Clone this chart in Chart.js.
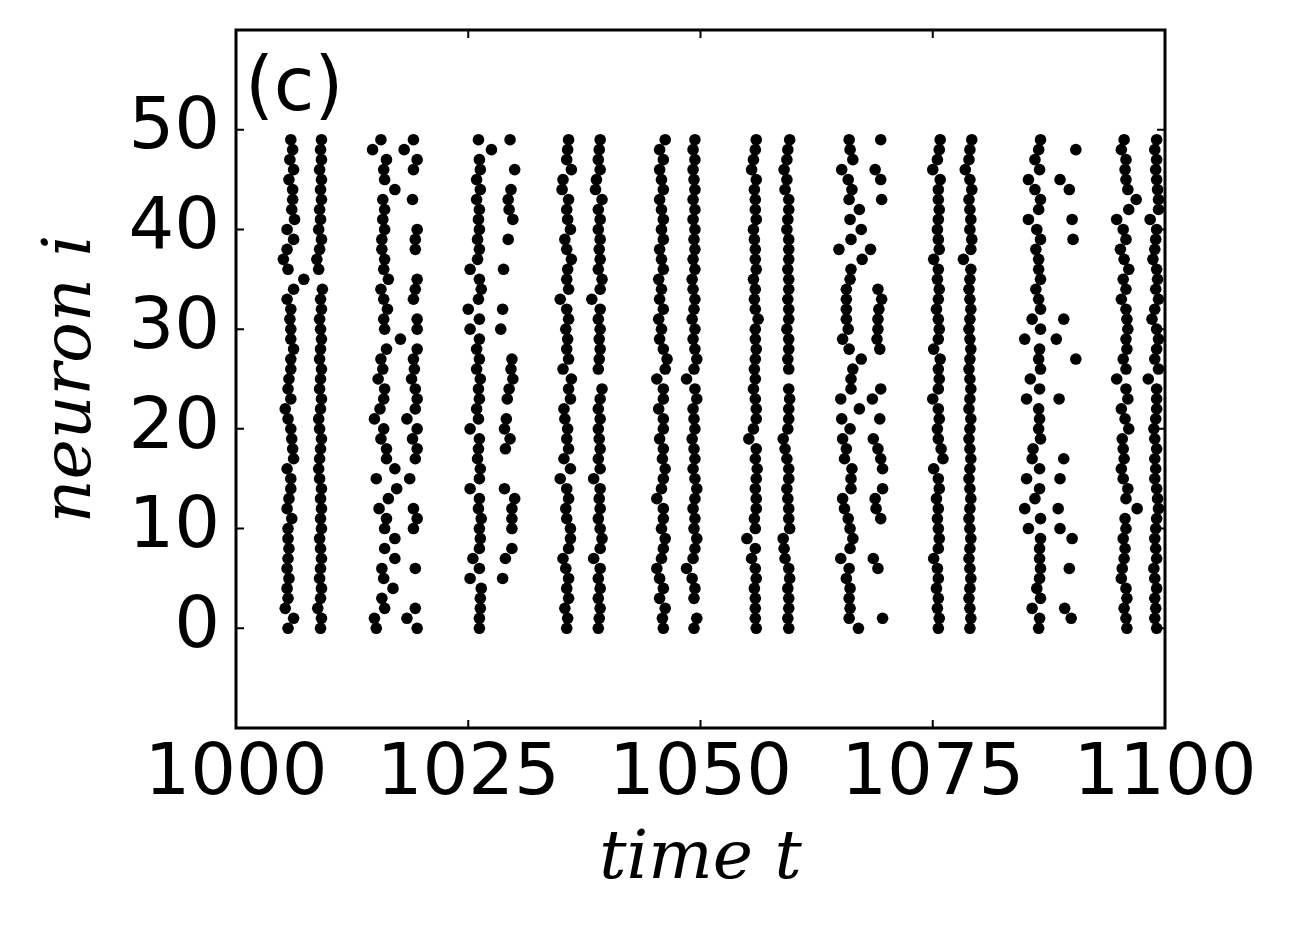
<!DOCTYPE html>
<html>
<head>
<meta charset="utf-8">
<title>Raster plot (c)</title>
<script src="https://cdn.jsdelivr.net/npm/chart.js@4.4.1/dist/chart.umd.min.js"></script>
<style>
  html, body { margin: 0; padding: 0; background: #fff; }
  canvas { display: block; }
</style>
</head>
<body>
<canvas id="raster" width="1291" height="941"></canvas>
<script>
// ── Data ───────────────────────────────────────────────────
// Spike times, one array per spike column,
// indexed by neuron 0..49 (null = no spike in that column).

const neurons = Array.from({ length: 50 }, (_, i) => i);
const xTicks = [1000, 1025, 1050, 1075, 1100];
const yTicks = [0, 10, 20, 30, 40, 50];

const col1a = [1005.6,1006.2,1005.3,1005.6,1005.5,1005.7,1005.5,1005.6,1005.7,1005.6,
  1005.6,1006.0,1005.5,1005.7,1005.9,1005.9,1005.5,1006.2,1006.1,1006.0,
  1005.9,1005.6,1005.3,1005.9,1005.6,1005.7,1005.9,1005.9,1006.2,1005.9,
  1005.9,1005.8,1005.9,1005.5,1006.2,1007.3,1005.6,1005.1,1005.5,1006.2,
  1005.5,1006.3,1006.0,1006.1,1006.1,1005.7,1006.2,1005.8,1006.1,1005.9];
const col1b = [1009.1,1009.2,1008.8,1009.1,1009.2,1009.0,1009.1,1009.2,1009.1,1009.0,
  1009.2,1009.1,1009.2,1009.1,1009.2,1009.0,1008.9,1009.0,1009.1,1009.2,
  1009.0,1008.9,1009.1,1009.2,1009.0,1009.1,1009.2,1009.0,1009.1,1009.2,
  1009.1,1009.0,1009.2,1009.1,1009.3,null,1008.9,1008.7,1009.0,1009.2,
  1008.9,1009.1,1009.0,1009.2,1009.1,1009.2,1009.0,1009.2,1009.1,1009.2];

const col2a = [1015.1,1014.9,1016.0,1015.7,1016.9,1015.9,1015.7,1017.1,1016.0,1017.1,
  1016.0,1016.2,1015.4,1016.4,1017.3,1015.1,1017.1,1016.2,1016.2,1015.6,
  1015.9,1014.9,1015.5,1015.9,1016.0,1015.3,1015.8,1015.6,1016.2,1017.7,
  1016.0,1015.9,1016.3,1015.9,1015.6,1016.4,1015.9,1016.0,1015.7,1015.7,
  1016.0,1015.8,1016.0,1015.8,1017.1,1016.0,1015.9,1016.2,1014.7,1015.6];
const col2b = [1019.5,1018.4,1019.3,null,null,null,1019.3,null,null,null,
  1019.1,1019.5,1019.1,null,null,1018.7,null,1019.3,1019.5,1019.0,
  1019.5,1018.4,1019.3,1019.5,1019.3,1018.9,1019.2,1019.1,1019.5,null,
  1019.5,1019.5,null,1019.1,1019.3,1019.5,null,null,1019.3,1019.3,
  1019.5,null,null,1019.0,null,null,1019.1,1019.5,1018.1,1019.1];

const col3a = [1026.2,1026.2,1026.3,1026.3,1026.4,1025.2,1026.2,1025.5,1026.2,1026.3,
  1026.2,1026.4,1026.1,1026.2,1025.2,1026.2,1026.3,1026.0,1026.1,1026.2,
  1025.2,1026.1,1025.9,1026.2,1026.1,1026.3,1025.9,1026.2,1025.9,1026.2,
  1025.2,1026.2,1025.0,1026.1,1026.4,1026.2,1025.2,1026.0,1026.2,1026.0,
  1026.2,1026.1,1026.2,1025.9,1026.3,1025.9,1026.3,1026.2,1027.5,1026.1];
const col3b = [null,null,null,null,null,1028.7,null,1029.0,1029.7,null,
  1029.7,1029.7,1029.7,1030.0,1028.9,null,null,null,1029.0,1029.5,
  1028.9,1029.1,null,1029.2,1029.4,1029.8,1029.6,1029.7,null,null,
  1028.5,null,1028.7,null,null,null,1028.8,null,null,1029.3,
  null,1029.8,1029.4,1029.3,1029.6,null,1030.0,null,null,1029.5];

const col4a = [1035.6,1035.7,1035.4,1035.8,1035.6,1035.8,1035.5,1035.2,1035.8,1036.0,
  1036.0,1035.6,1035.5,1035.8,1035.6,1034.9,1036.0,1035.3,1035.8,1035.6,
  1035.7,1035.4,1035.3,1036.0,1035.8,1036.1,1035.2,1035.8,1035.6,1035.7,
  1035.5,1035.8,1035.6,1034.9,1035.8,1035.6,1035.7,1036.1,1035.6,1035.4,
  1036.0,1035.7,1035.6,1035.8,1035.1,1035.2,1036.1,1035.6,1035.7,1035.8];
const col4b = [1039.0,1039.1,1039.2,1039.0,1039.2,1039.0,1039.2,1038.5,1039.2,1039.4,
  1039.2,1039.0,1039.2,1039.1,1039.2,1038.5,1039.2,1039.0,1039.2,1039.1,
  1039.0,1039.2,1039.0,1039.2,1039.4,null,1039.0,1039.1,1039.2,1039.1,
  1039.2,1039.0,1039.2,1038.3,1039.2,1039.4,1039.0,1039.2,1039.1,1039.2,
  1039.0,1039.2,1039.0,1039.4,1038.7,1038.8,1039.2,1039.0,1039.1,1039.2];

const col5a = [1046.0,1045.9,1046.2,1045.6,1046.0,1045.6,1045.3,1045.8,1046.0,1046.2,
  1045.8,1046.0,1046.0,1045.3,1045.8,1046.0,1046.2,1045.9,1046.0,1045.6,
  1046.0,1046.0,1045.5,1046.0,1046.0,1045.3,1046.2,1046.4,1046.0,1045.6,
  1045.8,1045.5,1046.0,1045.6,1045.8,1045.5,1046.0,1045.8,1045.6,1046.0,
  1045.8,1046.0,1045.8,1045.6,1046.0,1045.8,1045.6,1046.0,1045.6,1046.2];
const col5b = [1049.3,1049.6,null,1049.3,1049.4,1049.1,1048.5,1049.2,1049.4,1049.6,
  1049.3,1049.4,1049.2,1049.4,1049.6,1049.4,1049.2,1049.4,1049.3,1049.1,
  1049.4,1049.3,1049.2,1049.6,1049.4,1048.5,1049.3,1049.6,1049.4,1049.2,
  1049.4,1049.1,1049.3,1049.4,1049.2,1049.1,1049.4,1049.2,1049.4,1049.3,
  1049.4,1049.2,1049.4,1049.2,1049.4,1049.3,1049.2,1049.4,1049.2,1049.4];

const col6a = [1056.0,1055.9,1055.9,1055.9,1055.8,1056.0,1055.9,1055.5,1055.9,1055.0,
  1055.9,1055.8,1056.0,1056.0,1055.9,1056.0,1056.1,1055.9,1056.0,1055.2,
  1055.7,1056.0,1056.0,1055.9,1055.7,1055.9,1055.8,1055.9,1056.0,1055.9,
  1055.9,1056.2,1055.9,1055.8,1055.9,1055.7,1056.0,1055.9,1055.9,1055.8,
  1055.7,1056.0,1055.9,1055.9,1055.8,1056.0,1055.5,1055.7,1055.9,1056.0];
const col6b = [1059.5,1059.4,1059.5,1059.5,1059.4,1059.6,1059.5,1059.1,1059.0,1058.9,
  1059.6,1059.5,1059.5,1059.4,1059.3,1059.5,1059.5,1059.3,1059.1,1058.9,
  1059.4,1059.5,1059.5,1059.6,1059.5,null,1059.5,1059.4,1059.5,1059.5,
  1059.3,1059.5,1059.5,1059.4,1059.5,1059.5,1059.4,1059.5,1059.5,1059.5,
  1059.3,1059.4,1059.5,1059.5,1059.1,1059.3,1059.0,1059.3,1059.4,1059.6];

const col7a = [1067.0,1066.0,1066.1,1066.0,1066.1,1065.7,1066.0,1065.1,1066.1,1066.4,
  1066.1,1065.9,1065.5,1065.3,1066.2,1066.2,1066.3,1065.5,1065.7,1065.3,
  1066.1,1065.2,1067.1,1065.1,1066.2,1066.2,1066.4,1067.3,1066.0,1065.3,
  1065.9,1065.7,1065.7,1065.7,1065.7,1066.1,1066.2,1067.4,1064.9,1066.2,
  1067.3,1066.1,1067.1,1066.0,1066.3,1065.9,1065.2,1066.4,1066.1,1066.0];
const col7b = [null,1069.6,null,null,null,null,1069.1,1068.6,null,null,
  null,1069.4,1068.9,1068.8,1069.6,null,1069.6,1069.4,1069.1,1068.6,
  null,1069.3,null,1068.5,1069.4,null,null,null,1069.3,1069.0,
  1069.1,1069.1,1069.2,1069.5,1069.1,null,null,null,1068.3,null,
  null,null,null,1069.5,null,1069.4,1068.8,null,null,1069.4];

const col8a = [1075.6,1075.7,1075.5,1075.6,1075.4,1075.6,1075.5,1075.1,1075.6,1075.7,
  1075.6,1075.5,1075.6,1075.4,1075.7,1075.6,1075.1,1076.1,1075.9,1075.6,
  1075.5,1075.7,1075.6,1075.0,1075.6,1075.7,1075.6,1075.8,1075.1,1075.6,
  1075.7,1075.6,1075.4,1075.6,1075.7,1075.5,1075.6,1075.1,1075.7,1075.6,
  1075.5,1075.6,1075.7,1075.6,1075.6,1075.8,1075.0,1075.5,1075.7,1075.8];
const col8b = [1079.0,1079.1,1079.0,1078.9,1079.0,1079.1,1079.0,1078.9,1079.0,1079.1,
  1079.0,1078.9,1079.0,1079.1,1079.0,1078.9,1079.0,1079.1,1079.0,1078.9,
  1079.0,1079.1,1078.9,1079.0,1079.1,1079.0,1078.9,1079.0,1079.1,1079.0,
  1078.9,1079.0,1079.1,1079.0,1078.9,1079.0,1079.1,1078.3,1079.1,1079.2,
  1079.0,1079.1,1079.0,1078.9,1079.2,1079.0,1078.5,1078.9,1079.0,1079.2];

const col9a = [1086.4,1086.5,1085.7,1086.6,1086.2,1086.5,1086.6,1086.5,1086.5,1086.6,
  1085.3,1086.6,1084.9,1086.0,1086.5,1085.1,1086.5,1085.7,1085.8,1086.6,
  1086.4,1086.5,1086.4,1085.1,1086.5,1085.5,1086.6,1086.4,1086.5,1084.9,
  1086.6,1085.7,1086.6,1086.4,1086.1,1086.6,1086.4,1086.4,1086.1,1086.6,
  1086.2,1085.3,1086.4,1086.6,1086.0,1085.3,1086.5,1086.0,1086.4,1086.6];
const col9b = [null,1089.9,1089.2,null,null,null,1089.7,null,null,1090.0,
  1088.7,null,1088.5,null,null,1088.7,null,1089.1,null,null,
  null,null,null,1088.6,null,null,null,1090.4,null,1088.3,
  null,1089.1,null,null,null,null,null,null,null,1090.1,
  null,1090.0,null,null,1089.7,1088.7,null,null,1090.4,null];

const col10a = [1095.9,1095.8,1095.6,1095.9,1095.8,1095.3,1095.4,1095.6,1095.7,1095.5,
  1095.8,1095.7,1097.0,1095.8,1096.0,1095.5,1095.3,1095.6,1095.5,1095.4,
  1096.1,1095.7,1095.3,1096.0,1095.8,1094.8,1095.8,1095.5,1095.9,1095.8,
  1096.0,1095.9,1095.8,1095.3,1095.8,1095.5,1096.1,1095.6,1095.2,1095.8,
  1095.5,1094.8,1096.1,1096.9,1096.0,1095.8,1095.7,1095.8,1095.3,1095.6];
const col10b = [1099.1,1098.9,1099.0,1098.9,1099.1,1098.9,1098.8,1099.1,1099.0,1098.9,
  1099.0,1099.1,1099.3,1099.2,1099.1,1098.9,1099.0,1098.9,1099.1,1098.9,
  1098.8,1099.0,1099.1,1099.1,1099.1,1098.2,1099.3,1098.9,1099.1,1099.3,
  1099.1,1098.6,1098.9,1099.3,1099.0,1099.2,1099.1,1098.7,1098.9,1099.0,
  1099.1,1098.4,1099.3,1099.3,1099.2,1099.1,1099.0,1099.1,1098.9,1099.1];

const columns = [col1a, col1b, col2a, col2b, col3a, col3b, col4a, col4b, col5a, col5b,
  col6a, col6b, col7a, col7b, col8a, col8b, col9a, col9b, col10a, col10b];

// ── Points ─────────────────────────────────────────────────
const spikes = [];
columns.forEach(col => {
  neurons.forEach(i => {
    if (col[i] !== null) spikes.push({ x: col[i], y: i });
  });
});

// ── Style ──────────────────────────────────────────────────
const tickFont = { family: "'DejaVu Sans'", size: 72 };
const titleFont = { family: "'DejaVu Serif'", style: 'italic', size: 68 };

// frame + inward ticks on all four sides (matplotlib classic look)
const framePlugin = {
  id: 'frame',
  afterDraw(chart) {
    const { ctx, chartArea: a, scales: { x, y } } = chart;
    const len = 8;
    ctx.save();
    ctx.strokeStyle = '#000';
    ctx.lineWidth = 2;
    ctx.beginPath();
    xTicks.forEach(v => {
      const px = x.getPixelForValue(v);
      ctx.moveTo(px, a.bottom); ctx.lineTo(px, a.bottom - len);
      ctx.moveTo(px, a.top); ctx.lineTo(px, a.top + len);
    });
    yTicks.forEach(v => {
      const py = y.getPixelForValue(v);
      ctx.moveTo(a.left, py); ctx.lineTo(a.left + len, py);
      ctx.moveTo(a.right, py); ctx.lineTo(a.right - len, py);
    });
    ctx.stroke();
    ctx.lineWidth = 3;
    ctx.strokeRect(a.left, a.top, a.right - a.left, a.bottom - a.top);
    // panel label
    ctx.fillStyle = '#000';
    ctx.font = "74px 'DejaVu Sans'";
    ctx.textAlign = 'left';
    ctx.textBaseline = 'alphabetic';
    ctx.fillText('(c)', a.left + 9, a.top + 80);
    ctx.restore();
  }
};

// ── Chart ──────────────────────────────────────────────────
new Chart(document.getElementById('raster'), {
  type: 'scatter',
  data: {
    datasets: [{
      data: spikes,
      backgroundColor: '#000',
      borderWidth: 0,
      pointRadius: 5.8,
      pointHoverRadius: 5.8,
      clip: 0,
    }],
  },
  options: {
    responsive: false,
    animation: false,
    layout: { padding: { top: 30, right: 126, bottom: 0, left: 0 } },
    plugins: { legend: { display: false }, tooltip: { enabled: false } },
    scales: {
      x: {
        type: 'linear',
        min: 1000,
        max: 1100,
        afterBuildTicks: s => { s.ticks = xTicks.map(v => ({ value: v })); },
        afterFit: s => { s.height = 213; s.paddingLeft = 0; s.paddingRight = 0; },
        grid: { display: false, drawTicks: false },
        border: { display: false },
        ticks: { font: tickFont, color: '#000', padding: 4, maxRotation: 0, autoSkip: false,
                 callback: v => String(v) },
        title: { display: true, text: 'time t', font: titleFont, color: '#000', padding: { top: 0, bottom: 40 } },
      },
      y: {
        type: 'linear',
        min: -10,
        max: 60,
        afterBuildTicks: s => { s.ticks = yTicks.map(v => ({ value: v })); },
        afterFit: s => { s.width = 236; s.paddingTop = 0; s.paddingBottom = 0; },
        grid: { display: false, drawTicks: false },
        border: { display: false },
        ticks: { font: tickFont, color: '#000', padding: 16, autoSkip: false,
                 callback: v => String(v) },
        title: { display: true, text: 'neuron i', font: titleFont, color: '#000', padding: { top: 32, bottom: 0 } },
      },
    },
  },
  plugins: [framePlugin],
});
</script>
</body>
</html>
